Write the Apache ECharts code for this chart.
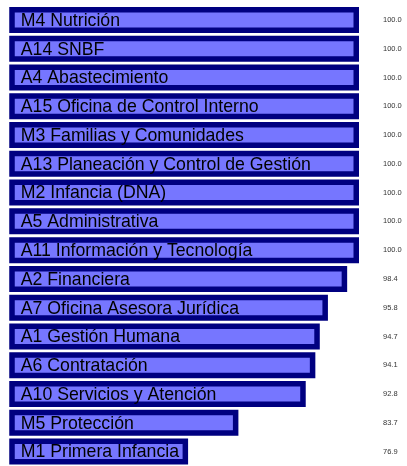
<!DOCTYPE html>
<html><head><meta charset="utf-8">
<script src="https://cdn.jsdelivr.net/npm/echarts@6/dist/echarts.min.js"></script>
<style>html,body{margin:0;padding:0;background:#fff}#c{width:407px;height:466px}</style>
</head><body><div id="c"></div>
<script>
const categories = ["M4 Nutrición","A14 SNBF","A4 Abastecimiento","A15 Oficina de Control Interno","M3 Familias y Comunidades","A13 Planeación y Control de Gestión","M2 Infancia (DNA)","A5 Administrativa","A11 Información y Tecnología","A2 Financiera","A7 Oficina Asesora Jurídica","A1 Gestión Humana","A6 Contratación","A10 Servicios y Atención","M5 Protección","M1 Primera Infancia"];
const values = [100.0,100.0,100.0,100.0,100.0,100.0,100.0,100.0,100.0,98.4,95.8,94.7,94.1,92.8,83.7,76.9];
const valueLabels = values.map(v => v.toFixed(1));

const chart = echarts.init(document.getElementById('c'), null, {renderer:'canvas'});
chart.setOption({
  animation:false,
  backgroundColor:'#ffffff',
  grid:{left:12, right:48, top:5.5, height:463},
  xAxis:{type:'value', min:53.1, max:100, show:false},
  yAxis:[
    {type:'category', data:categories, inverse:true, axisLine:{show:false}, axisTick:{show:false}, axisLabel:{show:false}, splitLine:{show:false}},
    {type:'category', data:valueLabels, inverse:true, position:'right', axisLine:{show:false}, axisTick:{show:false}, splitLine:{show:false},
     axisLabel:{show:true, inside:false, margin:24, align:'left', fontFamily:'Liberation Sans, Arial, sans-serif', fontSize:7.5, color:'#333'}}
  ],
  series:[{
    type:'bar', data:values, yAxisIndex:0, barWidth:26,
    itemStyle:{color:'#7676ff', borderColor:'#000080', borderWidth:5.5},
    label:{show:true, position:'insideLeft', distance:0, offset:[11.5,1], formatter:p=>categories[p.dataIndex],
      fontFamily:'Liberation Sans, Arial, sans-serif', fontSize:17.7, color:'#000'}
  }]
});
</script></body></html>
